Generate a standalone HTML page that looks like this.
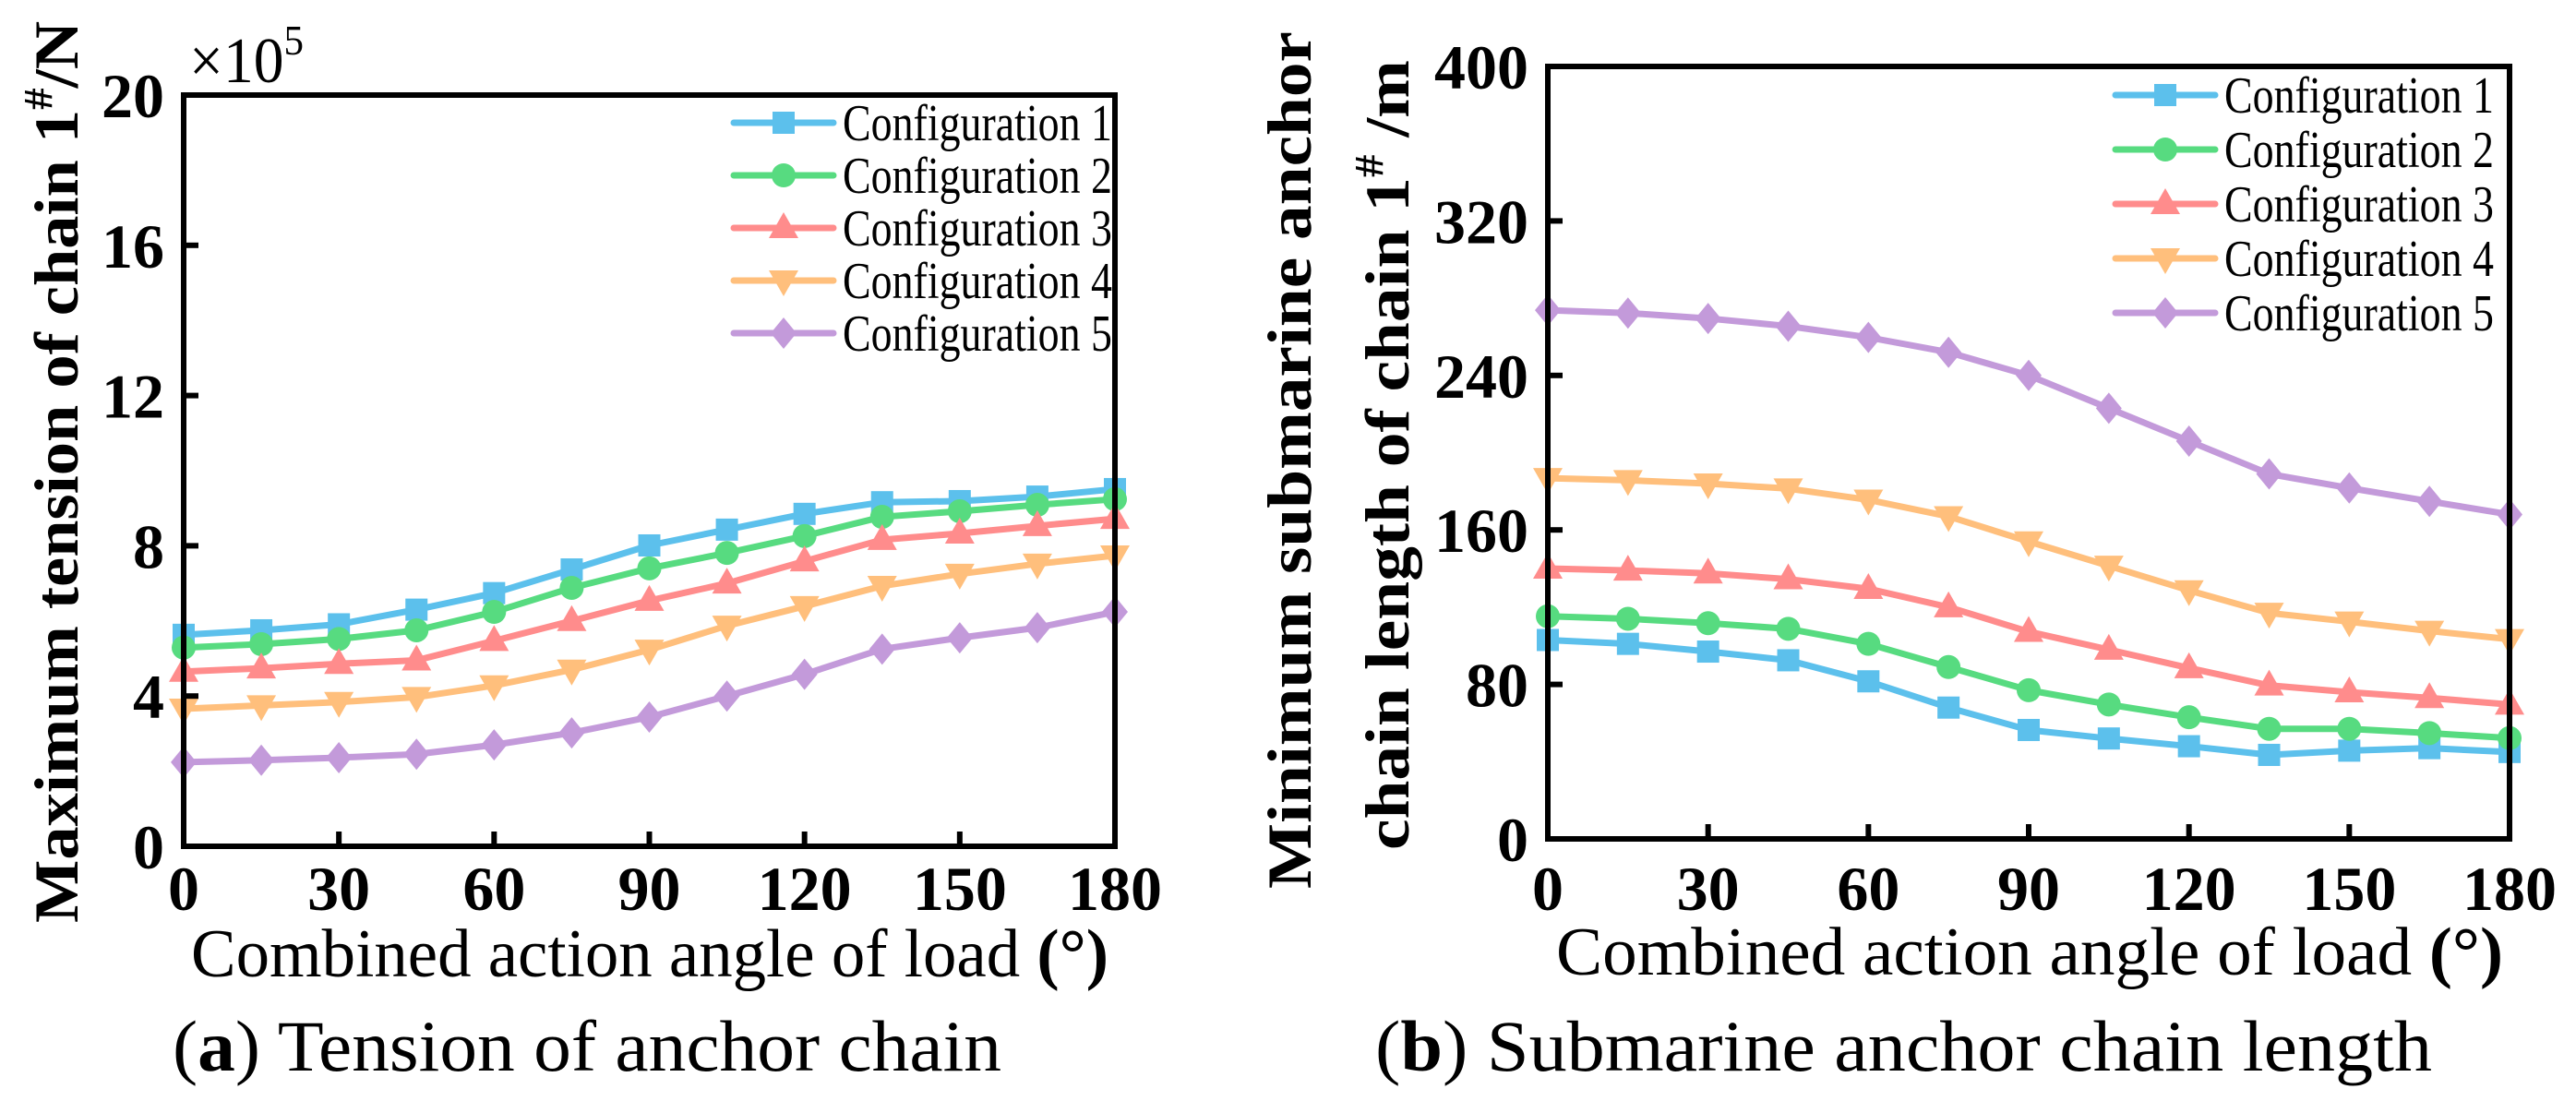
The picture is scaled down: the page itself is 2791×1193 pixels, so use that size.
<!DOCTYPE html>
<html><head><meta charset="utf-8">
<style>
html,body{margin:0;padding:0;background:#fff;}
svg{display:block;font-family:"Liberation Serif",serif;}
</style></head>
<body>
<svg id="fig" width="2791" height="1193" viewBox="0 0 2791 1193" xmlns="http://www.w3.org/2000/svg">
<g id="chartA"></g>
<g id="chartB"></g>
</svg>
<script>
const angles = [0,15,30,45,60,75,90,105,120,135,150,165,180];
const xTicks = [0,30,60,90,120,150,180];
const seriesNames = ["Configuration 1","Configuration 2","Configuration 3","Configuration 4","Configuration 5"];
const tensionC1 = [5.63,5.75,5.91,6.3,6.74,7.37,8.01,8.43,8.85,9.16,9.19,9.31,9.51];
const tensionC2 = [5.29,5.38,5.52,5.75,6.24,6.88,7.40,7.81,8.26,8.77,8.92,9.09,9.24];
const tensionC3 = [4.65,4.74,4.86,4.95,5.47,6.0,6.54,7.0,7.59,8.16,8.33,8.53,8.72];
const tensionC4 = [3.66,3.75,3.84,3.97,4.28,4.7,5.23,5.87,6.39,6.93,7.25,7.52,7.74];
const tensionC5 = [2.24,2.29,2.36,2.45,2.7,3.02,3.44,4.0,4.58,5.25,5.55,5.82,6.24];
const tensionTicks = [0,4,8,12,16,20];
const lengthC1 = [103,101,97,92.5,81.6,68,56.4,52,48,43.5,45.7,47,45];
const lengthC2 = [115.3,114,111.7,108.8,101,89,77,69.6,63,57,57,54.8,52.2];
const lengthC3 = [140,139,137.5,134.5,129.5,120,107.3,98,88.5,79.5,76,73,69.6];
const lengthC4 = [186.8,185.7,184,181.4,175.6,167,154,141.4,128.7,117,112.5,107.7,103.4];
const lengthC5 = [273.8,272.3,269.5,265.5,259.7,252,240,223,206,189,181.7,174.8,168];
const lengthTicks = [0,80,160,240,320,400];

const NS = "http://www.w3.org/2000/svg";
const colors = ["#5cc0ec","#57db80","#ff8c8c","#ffbf7c","#c39ada"];
const markers = ["square","circle","up","down","diamond"];

function mk(tag, attrs, parent){
  const e = document.createElementNS(NS, tag);
  for (const k in attrs) e.setAttribute(k, attrs[k]);
  parent.appendChild(e);
  return e;
}
function marker(type, x, y, color, parent){
  let e;
  if (type === "square") e = mk("rect",{x:x-12,y:y-12,width:24,height:24,fill:color},parent);
  else if (type === "circle") e = mk("circle",{cx:x,cy:y,r:13,fill:color},parent);
  else if (type === "up") e = mk("polygon",{points:`${x},${y-17} ${x+16},${y+11} ${x-16},${y+11}`,fill:color},parent);
  else if (type === "down") e = mk("polygon",{points:`${x},${y+17} ${x+16},${y-11} ${x-16},${y-11}`,fill:color},parent);
  else e = mk("polygon",{points:`${x},${y-17} ${x+14},${y} ${x},${y+17} ${x-14},${y}`,fill:color},parent);
  return e;
}

function drawChart(g, cfg){
  const {x0,x1,y0,y1,ymax,yTicks,series,tickRight,legX,legY,legStep} = cfg;
  const xs = v => x0 + (v/180)*(x1-x0);
  const ys = v => y0 - (v/ymax)*(y0-y1);
  series.forEach((vals,i)=>{
    const sg = mk("g",{},g);
    
    
    const pts = vals.map((v,j)=>xs(angles[j])+","+ys(v)).join(" ");
    const pl = mk("polyline",{points:pts,fill:"none",stroke:colors[i],"stroke-width":7,"stroke-linejoin":"round"},sg);
    
    
    vals.forEach((v,j)=>{
      const m = marker(markers[i], xs(angles[j]), ys(v), colors[i], sg);
      
      
    });
  });
  const fr = mk("rect",{x:x0,y:y1,width:x1-x0,height:y0-y1,fill:"none",stroke:"#000","stroke-width":6},g);
  
  
  yTicks.forEach(t=>{
    const y = ys(t);
    if (t>0 && t<ymax) mk("line",{x1:x0,x2:x0+16,y1:y,y2:y,stroke:"#000","stroke-width":6},g);
    const tx = mk("text",{x:tickRight,y:y+24,"text-anchor":"end","font-size":68,"font-weight":"bold"},g);
    tx.textContent = t;
    
    
  });
  xTicks.forEach(t=>{
    const x = xs(t);
    if (t>0 && t<180) mk("line",{x1:x,x2:x,y1:y0,y2:y0-16,stroke:"#000","stroke-width":6},g);
    const tx = mk("text",{x:x,y:986,"text-anchor":"middle","font-size":68,"font-weight":"bold"},g);
    tx.textContent = t;
    
    
  });
  seriesNames.forEach((n,i)=>{
    const lg = mk("g",{},g);
    
    
    const y = legY + i*legStep;
    mk("line",{x1:legX,x2:legX+108,y1:y,y2:y,stroke:colors[i],"stroke-width":7,"stroke-linecap":"round"},lg);
    marker(markers[i], legX+54, y, colors[i], lg);
    const t = mk("text",{x:legX+118,y:y+19,"font-size":56,textLength:292,lengthAdjust:"spacingAndGlyphs"},lg);
    t.textContent = n;
  });
}

const gA = document.getElementById("chartA");
drawChart(gA,{x0:199,x1:1208,y0:917,y1:103,ymax:20,yTicks:tensionTicks,
  series:[tensionC1,tensionC2,tensionC3,tensionC4,tensionC5],tickRight:178,legX:795,legY:133,legStep:57});
const gB = document.getElementById("chartB");
drawChart(gB,{x0:1677,x1:2719,y0:909,y1:72,ymax:400,yTicks:lengthTicks,
  series:[lengthC1,lengthC2,lengthC3,lengthC4,lengthC5],tickRight:1656,legX:2292,legY:103,legStep:59});
</script>
<svg style="position:absolute;left:0;top:0" width="2791" height="1193" xmlns="http://www.w3.org/2000/svg">
  <g style="font-family:'Liberation Serif',serif">
  <text x="205" y="89" font-size="70" textLength="124" lengthAdjust="spacingAndGlyphs">×10<tspan font-size="46" dy="-30">5</tspan></text>
  <text transform="translate(84,1000) rotate(-90)" font-size="68" font-weight="bold" textLength="977" lengthAdjust="spacingAndGlyphs">Maximum tension of chain 1<tspan font-size="44" dy="-28">#</tspan><tspan dy="28">/N</tspan></text>
  <text transform="translate(1420,963) rotate(-90)" font-size="68" font-weight="bold" textLength="929" lengthAdjust="spacingAndGlyphs">Minimum submarine anchor</text>
  <text transform="translate(1526,921) rotate(-90)" font-size="68" font-weight="bold" textLength="856" lengthAdjust="spacingAndGlyphs">chain length of chain 1<tspan font-size="44" dy="-28">#</tspan><tspan dy="28"> /m</tspan></text>
  <text x="207" y="1058" font-size="74" textLength="994" lengthAdjust="spacingAndGlyphs">Combined action angle of load <tspan font-weight="bold">(°)</tspan></text>
  <text x="1686" y="1056" font-size="74" textLength="1026" lengthAdjust="spacingAndGlyphs">Combined action angle of load <tspan font-weight="bold">(°)</tspan></text>
  <text x="187" y="1160" font-size="78" textLength="898" lengthAdjust="spacingAndGlyphs">(<tspan font-weight="bold">a</tspan>) Tension of anchor chain</text>
  <text x="1490" y="1160" font-size="78" textLength="1145" lengthAdjust="spacingAndGlyphs">(<tspan font-weight="bold">b</tspan>) Submarine anchor chain length</text>
  </g>
</svg>
</body></html>
